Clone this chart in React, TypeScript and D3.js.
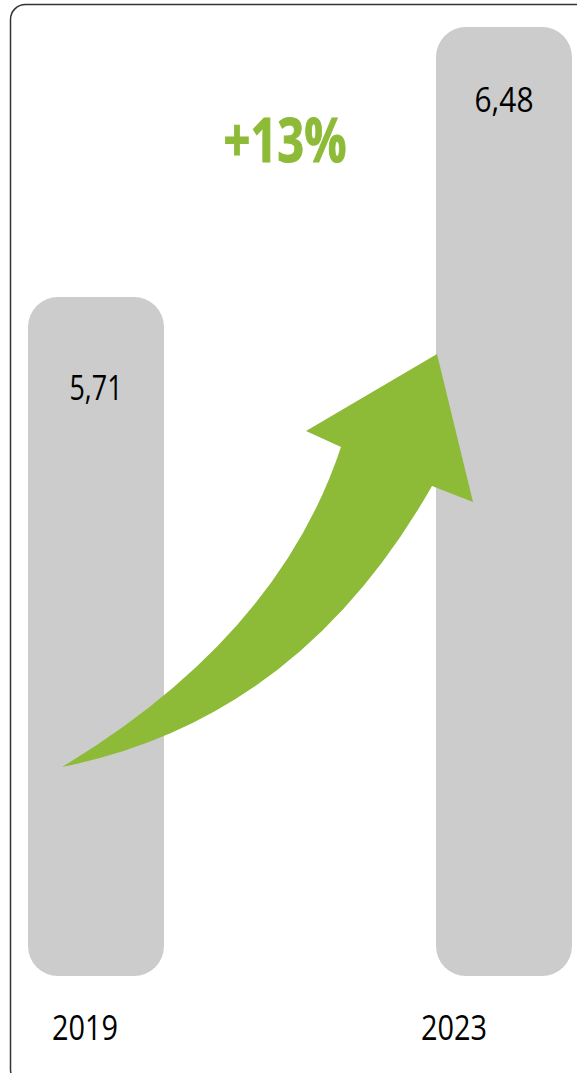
import React from "react";
import * as d3 from "d3";

const years = ["2019", "2023"];
const values = [5.71, 6.48];
const valueLabels = ["5,71", "6,48"];
const changeLabel = "+13%";

const W = 577;
const H = 1073;
const GREEN = "#8DBB38";
const GREY = "#CCCCCC";
const FONT = "'Open Sans', 'Noto Sans', sans-serif";

export default function App() {
  const x = d3.scaleBand<string>().domain(years).range([28, 572]).paddingInner(2 / 3).paddingOuter(0);
  const y = d3.scaleLinear().domain([3.773, 6.48]).range([976, 27]);
  const bw = x.bandwidth();

  const L = x(years[0])!;
  const R = x(years[1])!;

  // arrow annotation anchored on the bars
  const p = d3.path();
  const tail: [number, number] = [L + 34, 767];
  p.moveTo(tail[0], tail[1]);
  p.quadraticCurveTo(L + 250, 637, L + 313, 447);
  p.lineTo(L + 278, 431);
  p.lineTo(R + 1, 354);
  p.lineTo(R + 37, 502);
  p.lineTo(R - 4, 486);
  p.quadraticCurveTo(L + 271, 720, tail[0], tail[1]);
  p.closePath();

  const labelOffsets = [103, 85];
  const labelWidths = [53, 59];
  const yearOffsets = [-11, -50];

  return (
    <svg
      width={W}
      height={H}
      viewBox={`0 0 ${W} ${H}`}
      style={{ position: "absolute", left: 0, top: 0, display: "block", background: "#fff" }}
    >
      <rect x={10.5} y={4.5} width={580} height={1080} rx={15} ry={15} fill="#fff" stroke="#333" strokeWidth={1.5} />
      {years.map((yr, i) => (
        <rect
          key={yr}
          x={x(yr)}
          y={y(values[i])}
          width={bw}
          height={y.range()[0] - y(values[i])}
          rx={30}
          ry={30}
          fill={GREY}
        />
      ))}
      {years.map((yr, i) => (
        <text
          key={"v" + yr}
          x={x(yr)! + bw / 2}
          y={y(values[i]) + labelOffsets[i]}
          textAnchor="middle"
          fontFamily={FONT}
          fontSize={35}
          textLength={labelWidths[i]}
          lengthAdjust="spacingAndGlyphs"
          fill="#000"
        >
          {valueLabels[i]}
        </text>
      ))}
      <path d={p.toString()} fill={GREEN} />
      <text
        x={285}
        y={162}
        textAnchor="middle"
        fontFamily={FONT}
        fontWeight="bold"
        fontSize={60}
        textLength={123}
        lengthAdjust="spacingAndGlyphs"
        fill={GREEN}
        stroke={GREEN}
        strokeWidth={1}
      >
        {changeLabel}
      </text>
      {years.map((yr, i) => (
        <text
          key={"y" + yr}
          x={x(yr)! + bw / 2 + yearOffsets[i]}
          y={1040}
          textAnchor="middle"
          fontFamily={FONT}
          fontSize={35}
          textLength={66}
          lengthAdjust="spacingAndGlyphs"
          fill="#000"
        >
          {yr}
        </text>
      ))}
    </svg>
  );
}
